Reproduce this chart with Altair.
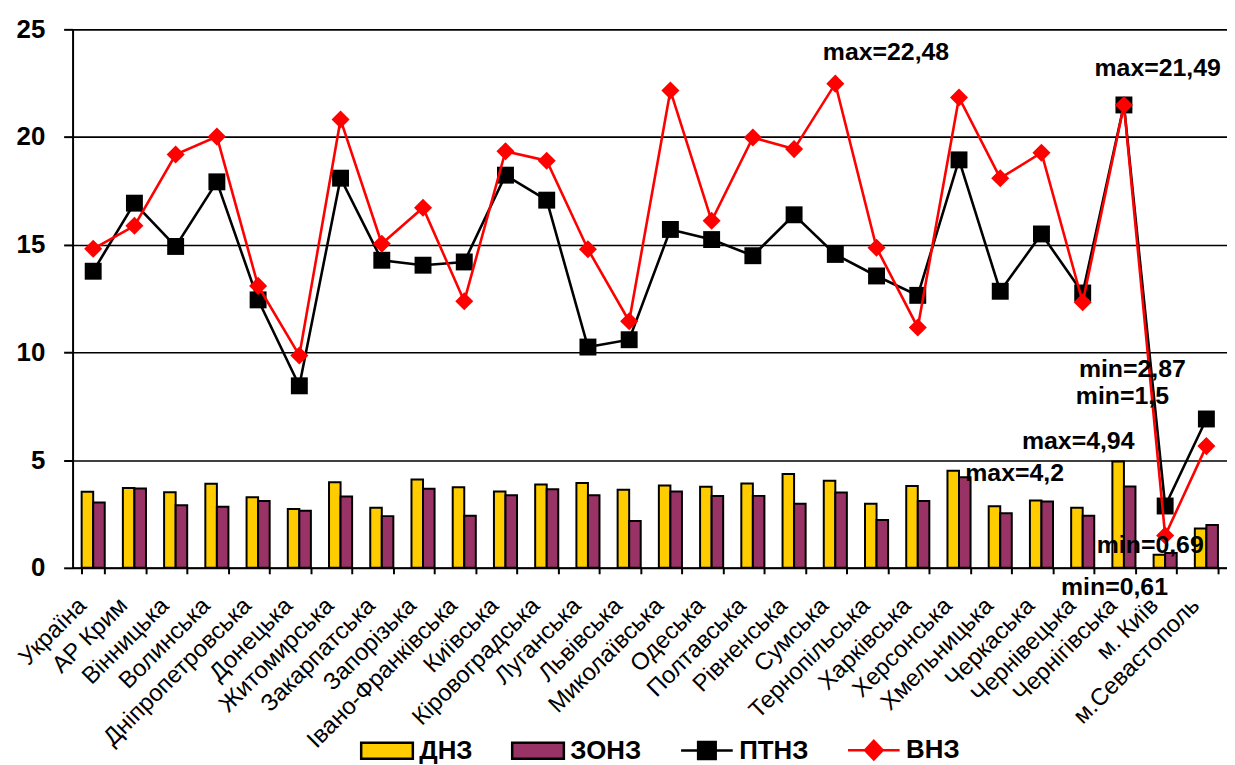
import altair as alt
import pandas as pd

regions = ["Україна", "АР Крим", "Вінницька", "Волинська", "Дніпропетровська",
           "Донецька", "Житомирська", "Закарпатська", "Запорізька",
           "Івано-Франківська", "Київська", "Кіровоградська", "Луганська",
           "Львівська", "Миколаївська", "Одеська", "Полтавська", "Рівненська",
           "Сумська", "Тернопільська", "Харківська", "Херсонська",
           "Хмельницька", "Черкаська", "Чернівецька", "Чернігівська",
           "м. Київ", "м.Севастополь"]

dnz = [3.53, 3.71, 3.51, 3.90, 3.28, 2.73, 3.97, 2.79, 4.10, 3.74, 3.54, 3.87,
       3.94, 3.62, 3.82, 3.76, 3.91, 4.36, 4.04, 2.97, 3.80, 4.51, 2.86, 3.13,
       2.79, 4.94, 0.61, 1.82]
zonz = [3.03, 3.68, 2.91, 2.83, 3.10, 2.65, 3.31, 2.40, 3.67, 2.42, 3.37, 3.65,
        3.37, 2.17, 3.54, 3.33, 3.34, 2.97, 3.50, 2.22, 3.10, 4.20, 2.53, 3.08,
        2.42, 3.77, 0.69, 1.99]
ptnz = [13.77, 16.93, 14.92, 17.92, 12.44, 8.45, 18.09, 14.28, 14.05, 14.20,
        18.23, 17.07, 10.25, 10.59, 15.71, 15.24, 14.49, 16.39, 14.55, 13.55,
        12.65, 18.94, 12.84, 15.50, 12.76, 21.49, 2.87, 6.91]
vnz = [14.81, 15.88, 19.19, 20.02, 13.09, 9.86, 20.81, 15.05, 16.72, 12.38,
       19.34, 18.90, 14.79, 11.45, 22.16, 16.11, 19.98, 19.44, 22.48, 14.86,
       11.16, 21.84, 18.09, 19.27, 12.33, 21.49, 1.50, 5.65]

series_all = ["ДНЗ", "ЗОНЗ", "ПТНЗ", "ВНЗ"]
series_colors = ["#FFCC00", "#993366", "#000000", "#FF0000"]

ann_text = ["max=22,48", "max=21,49", "min=2,87", "min=1,5",
            "max=4,94", "max=4,2", "min=0,69", "min=0,61"]
ann_region = ["Сумська", "Чернігівська", "м. Київ", "м. Київ",
              "Чернігівська", "Херсонська", "м. Київ", "м. Київ"]
ann_value = [22.48, 21.49, 2.87, 1.5, 4.94, 4.2, 0.69, 0.61]

# ---- tables built from the arrays ----
bars_df = pd.DataFrame(
    [{"region": r, "series": "ДНЗ", "value": v} for r, v in zip(regions, dnz)] +
    [{"region": r, "series": "ЗОНЗ", "value": v} for r, v in zip(regions, zonz)]
)
lines_df = pd.DataFrame(
    [{"region": r, "series": "ПТНЗ", "value": v} for r, v in zip(regions, ptnz)] +
    [{"region": r, "series": "ВНЗ", "value": v} for r, v in zip(regions, vnz)]
)
ann_df = pd.DataFrame({"region": ann_region, "value": ann_value, "label": ann_text})
legend_df = pd.DataFrame({"series": series_all})

FONT = "Liberation Sans"
col = dict(zip(series_all, series_colors))

x_enc = alt.X("region:N", sort=regions, title=None,
              scale=alt.Scale(paddingInner=0.44, paddingOuter=0.22),
              axis=alt.Axis(labelAngle=-45, labelAlign="right", labelBaseline="middle",
                            labelFontSize=24, labelFont=FONT, labelColor="black",
                            labelPadding=28, labelOffset=-11, tickBand="extent",
                            tickSize=6, tickWidth=2, tickColor="black",
                            domainColor="black", domainWidth=2, grid=False,
                            labelOverlap=False, labelLimit=400))
y_enc = alt.Y("value:Q", title=None,
              scale=alt.Scale(domain=[0, 25], nice=False),
              axis=alt.Axis(values=[0, 5, 10, 15, 20, 25], labelFontSize=26,
                            labelFontWeight="bold", labelFont=FONT, labelColor="black",
                            labelPadding=19, tickSize=9, tickWidth=2, tickColor="black",
                            domainColor="black", domainWidth=2, grid=True,
                            gridColor="black", gridWidth=1.6))

xoff = alt.XOffset("series:N", sort=series_all[:2],
                   scale=alt.Scale(domain=series_all[:2], paddingInner=0, paddingOuter=0))

def bar_layer(name):
    return alt.Chart(bars_df).transform_filter(
        alt.datum.series == name
    ).mark_bar(stroke="black", strokeWidth=2, color=col[name]).encode(
        x=x_enc, y=y_enc, xOffset=xoff,
    )

def line_layer(name):
    return alt.Chart(lines_df).transform_filter(
        alt.datum.series == name
    ).mark_line(strokeWidth=2.6, color=col[name]).encode(x=x_enc, y=y_enc)

def point_layer(name, shape, size):
    return alt.Chart(lines_df).transform_filter(
        alt.datum.series == name
    ).mark_point(shape=shape, filled=True, size=size, opacity=1,
                 color=col[name]).encode(x=x_enc, y=y_enc)

sym_paths = [
    "M-1,-0.31H1V0.31H-1Z",
    "M-1,-0.31H1V0.31H-1Z",
    "M-1,0H1M-0.34,-0.33H0.34V0.33H-0.34Z",
    "M-1,0H1M0,-0.36L0.34,0L0,0.36L-0.34,0Z",
]

leg = alt.Legend(
    title=None, orient="none", legendX=289, legendY=698, direction="horizontal",
    labelFont=FONT, labelFontSize=26, labelFontWeight="bold", labelColor="black",
    symbolSize=2704, symbolStrokeWidth=2.5, labelOffset=5, columnPadding=34,
    labelLimit=300, padding=0,
)

legend_layer = alt.Chart(legend_df).transform_filter("false").mark_point(
    filled=True, opacity=1
).encode(
    color=alt.Color("series:N", scale=alt.Scale(domain=series_all, range=series_colors),
                    legend=leg),
    shape=alt.Shape("series:N", scale=alt.Scale(domain=series_all, range=sym_paths),
                    legend=leg),
    stroke=alt.Stroke("series:N",
                      scale=alt.Scale(domain=series_all,
                                      range=["#000000", "#000000", "#000000", "#FF0000"]),
                      legend=leg),
)

ann_offsets = [(51, -32), (34, -37), (-33, -138), (-43, -140),
               (-46, -21), (56, -4), (-15, -8), (-51, 33)]
ann_layers = []
for i, (dx, dy) in enumerate(ann_offsets):
    ann_layers.append(
        alt.Chart(ann_df.iloc[[i]]).mark_text(
            dx=dx, dy=dy, font=FONT, fontSize=25, fontWeight="bold",
            color="black", align="center", baseline="middle"
        ).encode(x=x_enc, y=y_enc, text="label:N")
    )

chart = alt.layer(
    bar_layer("ДНЗ"), bar_layer("ЗОНЗ"),
    line_layer("ПТНЗ"), point_layer("ПТНЗ", "square", 290),
    line_layer("ВНЗ"), point_layer("ВНЗ", "diamond", 330),
    legend_layer,
    *ann_layers,
).properties(
    width=1162, height=542,
    padding={"left": 6, "top": 6, "right": 0, "bottom": 0},
    background="white",
).configure_view(
    strokeWidth=0
)

chart.save("out.html", embed_options={"renderer": "svg", "actions": False})
